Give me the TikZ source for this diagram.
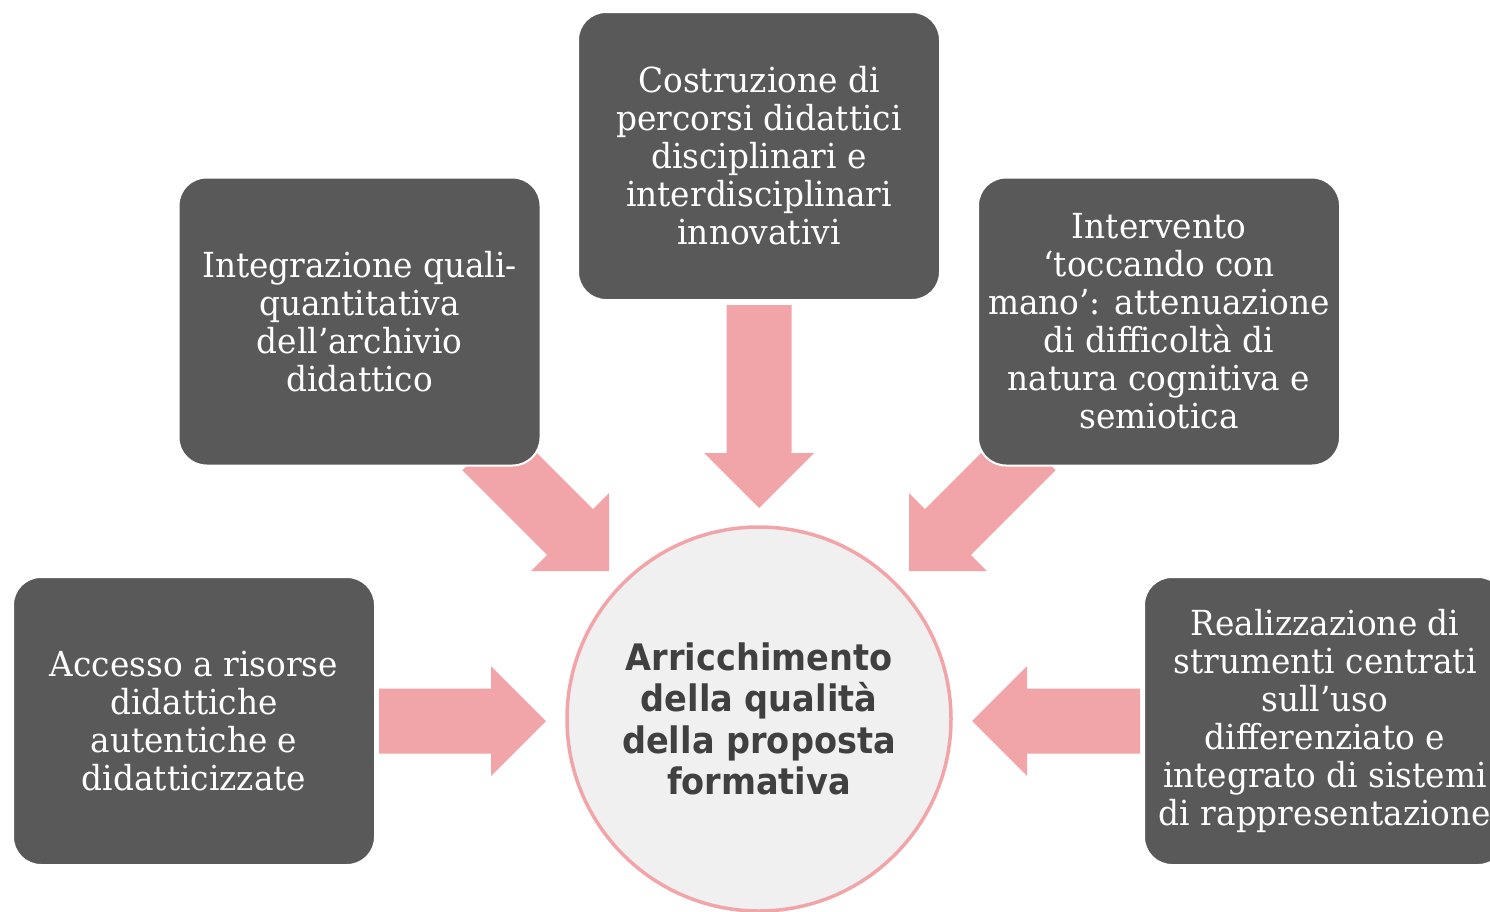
\documentclass[tikz,border=0pt]{standalone}
\usepackage{fontspec}
\setmainfont{DejaVu Serif}[FakeStretch=0.95]
\newfontfamily\circfont{DejaVu Sans}[BoldFont={DejaVu Sans Bold}, BoldFeatures={FakeStretch=0.92}]
\definecolor{boxgray}{HTML}{595959}
\definecolor{arrowpink}{HTML}{F2A5A8}
\definecolor{circfill}{HTML}{F0F0F0}
\definecolor{circtext}{HTML}{404040}
\tikzset{
  infobox/.style={draw=white, line width=2pt, fill=boxgray, rounded corners=28pt,
    minimum width=362pt, minimum height=288pt, inner sep=0pt, text=white,
    align=center, font=\fontsize{34.5}{38}\selectfont},
  hub/.style={circle, draw=arrowpink, line width=3.5pt, fill=circfill,
    minimum size=384pt, inner sep=0pt, text=circtext, align=center,
    font=\circfont\bfseries\fontsize{36.5}{41.5}\selectfont},
  blockarrow/.style={fill=arrowpink, draw=none}
}
\newcommand{\barrow}[4]{% tip x, tip y, rotation, length
  \begin{scope}[shift={(#1,#2)}, rotate=#3]
    \fill[blockarrow] (0,0) -- (-55,-55) -- (-55,-32.5) -- (-#4,-32.5) -- (-#4,32.5) -- (-55,32.5) -- (-55,55) -- cycle;
  \end{scope}}
\begin{document}
\begin{tikzpicture}[x=1pt,y=-1pt]
\useasboundingbox (0,0) rectangle (1490,911);
\clip (0,0) rectangle (1490,911);
% arrows (drawn under boxes)
\barrow{546}{721}{0}{167}
\barrow{972}{721}{180}{168}
\barrow{759}{508}{-90}{203}
\barrow{609}{571}{-45}{175}
\barrow{909}{571}{-135}{175}
% hub
\node[hub] (hub) at (759,719) {Arricchimento\\della qualità\\della proposta\\formativa};
% boxes
\node[infobox] (top) at (759,156) {Costruzione di\\percorsi didattici\\disciplinari e\\interdisciplinari\\innovativi};
\node[infobox] (ul) at (359.5,321.5) {Integrazione quali-\\quantitativa\\dell’archivio\\didattico};
\node[infobox] (ur) at (1159,321.5) {Intervento\\‘toccando con\\mano’: attenuazione\\di difficoltà di\\natura cognitiva e\\semiotica};
\node[infobox] (ll) at (194,721) {Accesso a risorse\\didattiche\\autentiche e\\didatticizzate};
\node[infobox] (lr) at (1325,721) {Realizzazione di\\strumenti centrati\\sull’uso\\differenziato e\\integrato di sistemi\\di rappresentazione};
\end{tikzpicture}
\end{document}
